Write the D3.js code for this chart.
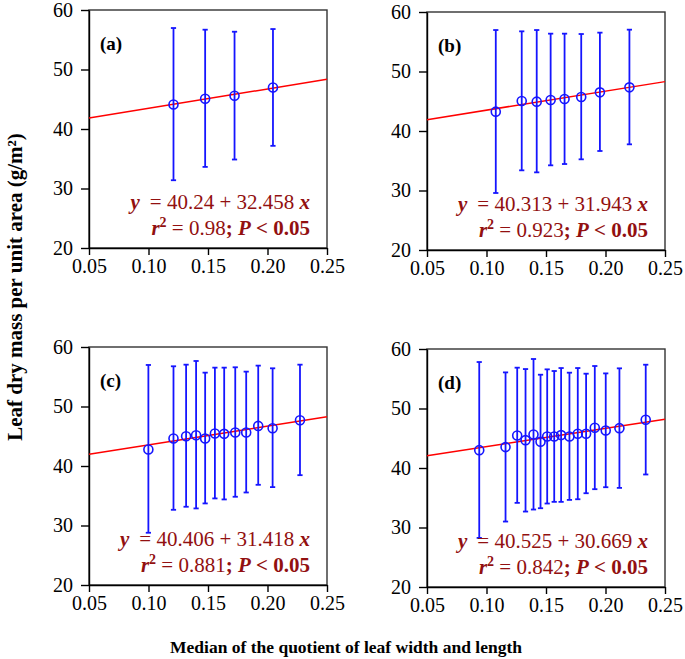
<!DOCTYPE html>
<html><head><meta charset="utf-8">
<script src="https://cdn.jsdelivr.net/npm/d3@7/dist/d3.min.js"></script>
<style>
body{margin:0;background:#fff;}
svg text{font-family:"Liberation Serif","Times New Roman",serif;}
</style></head>
<body><svg id="c" width="685" height="659" font-family="Liberation Serif, Times New Roman, serif"></svg>
<script>
// ---------- data ----------
const xTicks = [0.05, 0.10, 0.15, 0.20, 0.25];
const yTicks = [20, 30, 40, 50, 60];
const panelLabels = ["(a)", "(b)", "(c)", "(d)"];
const intercepts = [40.24, 40.313, 40.406, 40.525];
const slopes = [32.458, 31.943, 31.418, 30.669];
const interceptText = ["40.24", "40.313", "40.406", "40.525"];
const slopeText = ["32.458", "31.943", "31.418", "30.669"];
const r2Text = ["0.98", "0.923", "0.881", "0.842"];

const xA = [0.121, 0.1476, 0.1723, 0.2046];
const yA = [44.12, 45.08, 45.58, 46.98];
const hiA = [56.97, 56.69, 56.35, 56.80];
const loA = [31.39, 33.63, 34.87, 37.17];

const xB = [0.1078, 0.1296, 0.1422, 0.1539, 0.1656, 0.1796, 0.1953, 0.2201];
const yB = [43.25, 45.04, 44.93, 45.21, 45.38, 45.71, 46.50, 47.34];
const hiB = [56.97, 56.75, 56.97, 56.36, 56.36, 56.30, 56.53, 57.03];
const loB = [29.58, 33.39, 33.05, 34.23, 34.45, 35.24, 36.64, 37.76];

const xC = [0.0999, 0.1210, 0.1316, 0.1400, 0.1476, 0.1558, 0.1636, 0.1729, 0.1821, 0.1922, 0.2043, 0.2273];
const yC = [42.77, 44.62, 45.01, 45.17, 44.62, 45.45, 45.40, 45.62, 45.62, 46.74, 46.35, 47.69];
const hiC = [56.98, 56.76, 57.03, 57.65, 55.69, 56.53, 56.53, 56.59, 55.86, 56.87, 56.42, 57.03];
const loC = [28.78, 32.64, 33.15, 32.87, 33.71, 34.55, 34.38, 34.83, 35.55, 36.84, 36.45, 38.46];

const xD = [0.0939, 0.1160, 0.1258, 0.1328, 0.1395, 0.1454, 0.1510, 0.1569, 0.1627, 0.1697, 0.1767, 0.1837, 0.1910, 0.2002, 0.2117, 0.2338];
const yD = [43.0, 43.51, 45.47, 44.68, 45.64, 44.40, 45.30, 45.30, 45.53, 45.30, 45.75, 45.75, 46.76, 46.31, 46.70, 48.11];
const hiD = [57.81, 56.07, 56.86, 56.63, 58.32, 55.68, 56.58, 56.30, 56.80, 56.02, 56.80, 55.85, 57.14, 55.90, 56.75, 57.36];
const loD = [28.25, 31.0, 34.14, 32.68, 33.02, 33.24, 34.03, 34.31, 34.31, 34.64, 34.75, 35.76, 36.44, 36.77, 36.66, 38.91];

const seriesX = [xA, xB, xC, xD];
const seriesY = [yA, yB, yC, yD];
const seriesHi = [hiA, hiB, hiC, hiD];
const seriesLo = [loA, loB, loC, loD];

// ---------- layout ----------
const FONT = '"Liberation Serif","Times New Roman",serif';
const panelPos = [[89, 10], [427, 12], [89, 347], [427, 349]];
const W = 238, H = 238;
const textColor = "#921010";

const svg = d3.select("#c");

panelPos.forEach((pos, i) => {
  const g = svg.append("g").attr("transform", `translate(${pos[0]},${pos[1]})`);
  const x = d3.scaleLinear().domain([0.05, 0.25]).range([0, W]);
  const y = d3.scaleLinear().domain([20, 60]).range([H, 0]);

  // frame
  g.append("rect").attr("width", W).attr("height", H)
    .attr("fill", "none").attr("stroke", "#333").attr("stroke-width", 1.4);

  const ax = g.append("g").attr("transform", `translate(0,${H})`)
    .call(d3.axisBottom(x).tickValues(xTicks).tickFormat(d3.format(".2f")).tickSize(7).tickSizeOuter(0).tickPadding(4));
  const ay = g.append("g")
    .call(d3.axisLeft(y).tickValues(yTicks).tickFormat(d3.format("d")).tickSize(8).tickSizeOuter(0).tickPadding(8));
  [ax, ay].forEach(a => {
    a.attr("font-family", FONT).attr("font-size", 20);
    a.select(".domain").attr("stroke", "#000").attr("stroke-width", 1.4);
    a.selectAll(".tick line").attr("stroke", "#000").attr("stroke-width", 1.4);
    a.selectAll(".tick text").attr("fill", "#000").attr("font-family", FONT)
      .style("font-size", "20px").style("font-family", FONT);
  });

  // regression line
  g.append("line")
    .attr("x1", x(0.05)).attr("y1", y(intercepts[i] + slopes[i] * 0.05))
    .attr("x2", x(0.25)).attr("y2", y(intercepts[i] + slopes[i] * 0.25))
    .attr("stroke", "#ff0000").attr("stroke-width", 1.5);

  const pts = seriesX[i].map((xv, k) => ({x: xv, y: seriesY[i][k], hi: seriesHi[i][k], lo: seriesLo[i][k]}));
  const blue = "#1515ff";
  const eb = g.append("g").attr("stroke", blue).attr("stroke-width", 1.8);
  pts.forEach(p => {
    eb.append("line").attr("x1", x(p.x)).attr("x2", x(p.x)).attr("y1", y(p.hi)).attr("y2", y(p.lo));
    eb.append("line").attr("x1", x(p.x) - 2.6).attr("x2", x(p.x) + 2.6).attr("y1", y(p.hi)).attr("y2", y(p.hi));
    eb.append("line").attr("x1", x(p.x) - 2.6).attr("x2", x(p.x) + 2.6).attr("y1", y(p.lo)).attr("y2", y(p.lo));
  });
  g.append("g").selectAll("circle").data(pts).join("circle")
    .attr("cx", d => x(d.x)).attr("cy", d => y(d.y)).attr("r", 4.5)
    .attr("fill", "none").attr("stroke", blue).attr("stroke-width", 1.6);

  // panel label
  g.append("text").attr("x", 11).attr("y", 40).attr("font-weight", "bold")
    .style("font-size", "19px").attr("fill", "#000").text(panelLabels[i]);

  // equation
  const t1 = g.append("text").attr("x", W - 17).attr("y", 199).attr("text-anchor", "end")
    .style("font-size", "21px").attr("fill", textColor);
  t1.append("tspan").attr("font-weight", "bold").attr("font-style", "italic").text("y");
  t1.append("tspan").attr("dx", 10).text("= " + interceptText[i] + " + " + slopeText[i] + " ");
  t1.append("tspan").attr("font-weight", "bold").attr("font-style", "italic").text("x");

  const t2 = g.append("text").attr("x", W - 17).attr("y", 225).attr("text-anchor", "end")
    .style("font-size", "21px").attr("fill", textColor);
  t2.append("tspan").attr("font-weight", "bold").attr("font-style", "italic").text("r");
  t2.append("tspan").attr("font-weight", "bold").attr("dy", -8).style("font-size", "14px").text("2");
  t2.append("tspan").attr("dy", 8).text(" = " + r2Text[i]);
  t2.append("tspan").attr("font-weight", "bold").text("; ");
  t2.append("tspan").attr("font-weight", "bold").attr("font-style", "italic").text("P");
  t2.append("tspan").attr("font-weight", "bold").text(" < 0.05");
});

// axis titles
svg.append("text").attr("transform", "translate(22,287) rotate(-90)")
  .attr("text-anchor", "middle").attr("font-weight", "bold").style("font-size", "21px")
  .text("Leaf dry mass per unit area (g/m²)");
svg.append("text").attr("x", 346).attr("y", 653)
  .attr("text-anchor", "middle").attr("font-weight", "bold").style("font-size", "17.5px")
  .text("Median of the quotient of leaf width and length");
</script></body></html>
